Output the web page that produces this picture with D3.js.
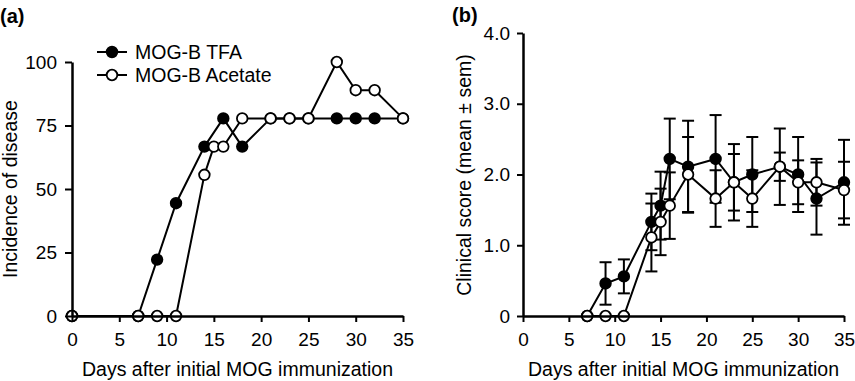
<!DOCTYPE html>
<html><head><meta charset="utf-8">
<script src="https://cdn.jsdelivr.net/npm/d3@7"></script>
<style>
body{margin:0;background:#fff;}
svg{display:block;font-family:"Liberation Sans",Arial,sans-serif;}
</style></head>
<body>
<svg id="c" width="855" height="381"></svg>
<script>
// Panel (a): incidence of disease
const incTfaDays = [0,7,9,11,14,16,18,21,23,25,28,30,32,35];
const incTfaVals = [0,0,22.2,44.4,66.7,77.8,66.7,77.8,77.8,77.8,77.8,77.8,77.8,77.8];
const incAcDays = [0,7,9,11,14,15,16,18,21,23,25,28,30,32,35];
const incAcVals = [0,0,0,0,55.6,66.7,66.7,77.8,77.8,77.8,77.8,100,88.9,88.9,77.8];
// Panel (b): clinical score mean ± sem
const csTfaDays = [7,9,11,14,15,16,18,21,23,25,28,30,32,35];
const csTfaVals = [0,0.46,0.56,1.33,1.56,2.22,2.11,2.22,1.89,2.0,2.11,2.0,1.66,1.89];
const csTfaSem  = [0,0.30,0.24,0.40,0.48,0.57,0.65,0.62,0.54,0.53,0.54,0.53,0.51,0.60];
const csAcDays = [7,9,11,14,15,16,18,21,23,25,28,30,32,35];
const csAcVals = [0,0,0,1.11,1.33,1.56,2.0,1.66,1.89,1.66,2.11,1.89,1.89,1.78];
const csAcSem  = [0,0,0,0.48,0.47,0.47,0.53,0.40,0.40,0.40,0.20,0.31,0.33,0.40];

const xTicks = [0,5,10,15,20,25,30,35];
const incTicks = [0,25,50,75,100];
const csTicks = [0,1,2,3,4];
const seriesNames = ["MOG-B TFA","MOG-B Acetate"];
const xTitle = "Days after initial MOG immunization";

const svg = d3.select("#c");
const LW = 2, R = 5.3;
const TICKFS = 19, TITLEFS = 19.5;

function zip(days, vals, sem){ return days.map((d,i)=>({d, v:vals[i], s: sem? sem[i]:0})); }

function drawErr(g, x, y, data){
  const eg = g.append("g").attr("stroke","#000").attr("stroke-width",2);
  data.filter(p=>p.s>0).forEach(p=>{
    const cx = x(p.d), y1 = y(p.v+p.s), y0 = y(p.v-p.s);
    eg.append("line").attr("x1",cx).attr("x2",cx).attr("y1",y1).attr("y2",y0);
    eg.append("line").attr("x1",cx-6).attr("x2",cx+6).attr("y1",y1).attr("y2",y1);
    eg.append("line").attr("x1",cx-6).attr("x2",cx+6).attr("y1",y0).attr("y2",y0);
  });
}
function drawLine(g,x,y,data){
  g.append("path").datum(data)
    .attr("fill","none").attr("stroke","#000").attr("stroke-width",LW)
    .attr("d", d3.line().x(p=>x(p.d)).y(p=>y(p.v)));
}
function drawMarks(g,x,y,data,filled){
  g.selectAll(null).data(data).enter().append("circle")
    .attr("cx",p=>x(p.d)).attr("cy",p=>y(p.v)).attr("r",R)
    .attr("fill", filled? "#000":"#fff").attr("stroke","#000").attr("stroke-width",1.8);
}
function axes(g, x, y, yTicks, yFmt, ySize, yPad){
  const ax = g.append("g").attr("transform",`translate(0,${y.range()[0]})`)
    .call(d3.axisBottom(x).tickValues(xTicks).tickSize(6).tickPadding(10.5).tickSizeOuter(0));
  const ay = g.append("g").attr("transform",`translate(${x.range()[0]},0)`)
    .call(d3.axisLeft(y).tickValues(yTicks).tickFormat(yFmt).tickSize(ySize).tickPadding(yPad).tickSizeOuter(0));
  [ax,ay].forEach(a=>{
    a.select(".domain").attr("stroke","#000").attr("stroke-width",2.5);
    a.selectAll(".tick line").attr("stroke","#000").attr("stroke-width",2);
    a.selectAll("text").attr("font-size",TICKFS).attr("fill","#000")
      .attr("font-family","'Liberation Sans',Arial,sans-serif");
  });
}

// ---- Panel a ----
const xa = d3.scaleLinear().domain([0,35]).range([72,403]);
const ya = d3.scaleLinear().domain([0,100]).range([316,62]);
const ga = svg.append("g");
const aT = zip(incTfaDays, incTfaVals), aA = zip(incAcDays, incAcVals);
drawLine(ga,xa,ya,aT); drawLine(ga,xa,ya,aA);
drawMarks(ga,xa,ya,aT,true); drawMarks(ga,xa,ya,aA,false);
axes(ga,xa,ya,incTicks,d3.format("d"),7,8);
ga.append("text").attr("x",237.5).attr("y",376).attr("text-anchor","middle")
  .attr("font-size",TITLEFS).text(xTitle);
ga.append("text").attr("transform","translate(17,189) rotate(-90)").attr("text-anchor","middle")
  .attr("font-size",TITLEFS).text("Incidence of disease");
ga.append("text").attr("x",0).attr("y",23).attr("font-size",20).attr("font-weight","bold").text("(a)");
// legend
const lg = ga.append("g");
[[52,true],[75,false]].forEach(([ly,f],i)=>{
  lg.append("line").attr("x1",97).attr("x2",127).attr("y1",ly).attr("y2",ly)
    .attr("stroke","#000").attr("stroke-width",LW);
  lg.append("circle").attr("cx",112).attr("cy",ly).attr("r",R)
    .attr("fill",f?"#000":"#fff").attr("stroke","#000").attr("stroke-width",1.8);
  lg.append("text").attr("x",135).attr("y",ly+6.8).attr("font-size",TITLEFS).text(seriesNames[i]);
});

// ---- Panel b ----
const xb = d3.scaleLinear().domain([0,35]).range([523,844]);
const yb = d3.scaleLinear().domain([0,4]).range([316,33]);
const gb = svg.append("g");
const bT = zip(csTfaDays, csTfaVals, csTfaSem), bA = zip(csAcDays, csAcVals, csAcSem);
drawErr(gb,xb,yb,bT); drawErr(gb,xb,yb,bA);
drawLine(gb,xb,yb,bT); drawLine(gb,xb,yb,bA);
drawMarks(gb,xb,yb,bT,true); drawMarks(gb,xb,yb,bA,false);
axes(gb,xb,yb,csTicks,d=> d===0 ? "0" : d3.format(".1f")(d),6,7);
gb.append("text").attr("x",683.5).attr("y",376).attr("text-anchor","middle")
  .attr("font-size",TITLEFS).text(xTitle);
gb.append("text").attr("transform","translate(471,175) rotate(-90)").attr("text-anchor","middle")
  .attr("font-size",TITLEFS).text("Clinical score (mean ± sem)");
gb.append("text").attr("x",452).attr("y",22).attr("font-size",20).attr("font-weight","bold").text("(b)");
</script>
</body></html>
